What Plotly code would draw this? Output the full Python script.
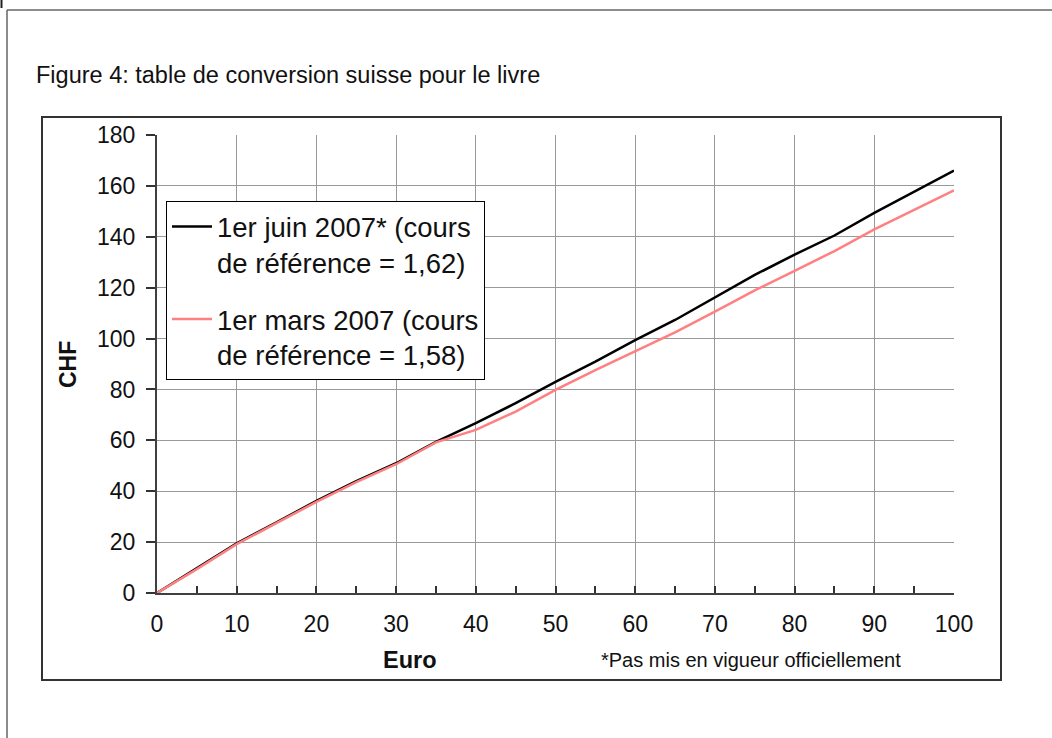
import plotly.graph_objects as go

# Values (every 5 euros)
euro = [0, 5, 10, 15, 20, 25, 30, 35, 40, 45, 50, 55, 60, 65, 70, 75, 80, 85, 90, 95, 100]
chf_juin = [0, 9.6, 19.5, 27.8, 36.2, 44.0, 51.0, 59.4, 66.8, 74.6, 83.0, 90.9, 99.4,
            107.3, 116.2, 125.0, 133.0, 140.5, 149.4, 157.8, 166.0]
chf_mars = [0, 9.4, 19.2, 27.4, 35.8, 43.6, 50.6, 59.2, 64.1, 71.3, 79.8, 87.6, 95.0,
            102.4, 110.6, 118.9, 126.6, 134.4, 142.9, 150.6, 158.2]

name_juin = "1er juin 2007* (cours<br>de référence = 1,62)"
name_mars = "1er mars 2007 (cours<br>de référence = 1,58)"

x_ticks = [0, 10, 20, 30, 40, 50, 60, 70, 80, 90, 100]
y_ticks = [0, 20, 40, 60, 80, 100, 120, 140, 160, 180]

# page geometry (pixels)
W, H = 1052, 738
L, R, T, B = 157, 98, 135, 145
PW, PH = W - L - R, H - T - B


def px(x):
    return (x - L) / PW


def py(y):
    return (H - B - y) / PH


FONT = "Arial, Liberation Sans, sans-serif"

fig = go.Figure()

fig.add_trace(go.Scatter(
    x=euro, y=chf_juin, mode="lines", name=name_juin, legendgroup="a",
    line=dict(color="#000000", width=2.5),
))
fig.add_trace(go.Scatter(
    x=euro, y=chf_mars, mode="lines", name=name_mars, legendgroup="b",
    line=dict(color="#FF8080", width=2.5),
))

# page frame, chart box
shapes = [
    dict(type="line", xref="paper", yref="paper", x0=px(7), x1=px(1060), y0=py(10), y1=py(10),
         line=dict(color="#666666", width=1.5)),
    dict(type="line", xref="paper", yref="paper", x0=px(7), x1=px(7), y0=py(10), y1=py(745),
         line=dict(color="#666666", width=1.5)),
    dict(type="line", xref="paper", yref="paper", x0=px(1.5), x1=px(1.5), y0=py(-2), y1=py(8),
         line=dict(color="#222222", width=2)),
    dict(type="rect", xref="paper", yref="paper", x0=px(42), x1=px(1001), y0=py(117), y1=py(680),
         line=dict(color="#333333", width=2), layer="below"),
]

annotations = [
    dict(text="Figure 4: table de conversion suisse pour le livre", xref="paper", yref="paper",
         x=px(34), y=py(75), xanchor="left", yanchor="middle", showarrow=False,
         font=dict(size=23.5, color="#111111", family=FONT)),
    dict(text="<b>Euro</b>", xref="paper", yref="paper", x=px(410), y=py(660),
         xanchor="center", yanchor="middle", showarrow=False,
         font=dict(size=23.5, color="#111111", family=FONT)),
    dict(text="<b>CHF</b>", xref="paper", yref="paper", x=px(68), y=py(365), textangle=-90,
         xanchor="center", yanchor="middle", showarrow=False,
         font=dict(size=23, color="#111111", family=FONT)),
    dict(text="*Pas mis en vigueur officiellement", xref="paper", yref="paper",
         x=px(599), y=py(660), xanchor="left", yanchor="middle", showarrow=False,
         font=dict(size=20, color="#111111", family=FONT)),
]

fig.update_layout(
    width=W, height=H,
    margin=dict(l=L, r=R, t=T, b=B, pad=0),
    paper_bgcolor="white",
    plot_bgcolor="white",
    font=dict(family=FONT, color="#111111", size=20),
    shapes=shapes,
    annotations=annotations,
    showlegend=True,
    legend=dict(
        x=px(166), y=py(201), xanchor="left", yanchor="top",
        bgcolor="white", bordercolor="#000000", borderwidth=1,
        font=dict(size=27.5, family=FONT, color="#111111"),
        valign="top", tracegroupgap=18, itemwidth=40,
    ),
    xaxis=dict(
        range=[0, 100], tickvals=x_ticks, ticks="inside", ticklen=7, tickwidth=1.5,
        tickcolor="#333333", showline=True, linecolor="#404040", linewidth=2,
        showgrid=True, gridcolor="#999999", gridwidth=1, zeroline=False,
        minor=dict(dtick=5, tick0=0, ticks="inside", ticklen=7, tickcolor="#333333",
                   showgrid=False),
        tickfont=dict(size=23), ticklabelstandoff=9, fixedrange=True,
    ),
    yaxis=dict(
        range=[0, 180], tickvals=y_ticks, ticks="outside", ticklen=9, tickwidth=1.5,
        tickcolor="#333333", showline=True, linecolor="#404040", linewidth=2,
        showgrid=True, gridcolor="#999999", gridwidth=1, zeroline=False,
        tickfont=dict(size=23), ticklabelstandoff=6, fixedrange=True,
    ),
)

fig.write_html("out.html", config={"displayModeBar": False},
               post_script="document.body.style.margin='0';")
